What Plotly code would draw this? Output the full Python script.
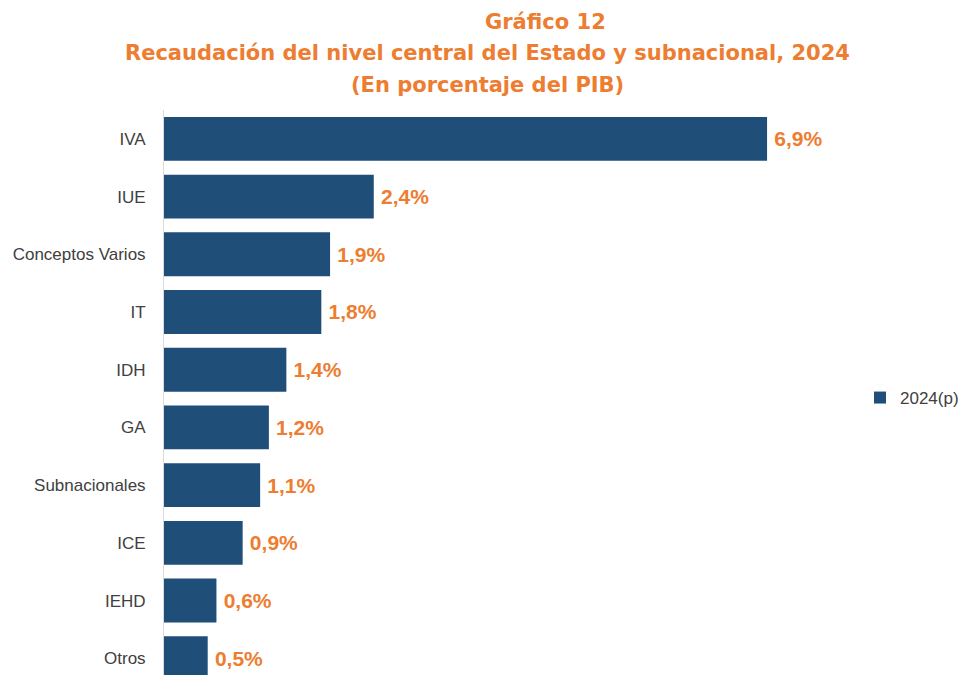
import plotly.graph_objects as go

categories = ["IVA", "IUE", "Conceptos Varios", "IT", "IDH", "GA",
              "Subnacionales", "ICE", "IEHD", "Otros"]
values = [6.9, 2.4, 1.9, 1.8, 1.4, 1.2, 1.1, 0.9, 0.6, 0.5]
labels = ["6,9%", "2,4%", "1,9%", "1,8%", "1,4%", "1,2%", "1,1%", "0,9%", "0,6%", "0,5%"]
series_name = "2024(p)"

BLUE = "#1F4E79"
ORANGE = "#ED7D31"

W, H = 959, 675
L, T = 164, 110
PW, PH = W - L, H - T

fig = go.Figure()
fig.add_trace(go.Bar(
    x=values, y=categories, orientation="h", name=series_name,
    marker=dict(color=BLUE, line=dict(width=0)),
    width=0.76,
    text=labels, texttemplate="\u2009%{text}", textposition="outside",
    textfont=dict(family="Liberation Sans", size=21, color=ORANGE, weight="bold"),
    cliponaxis=False, showlegend=True,
))

fig.update_layout(
    width=W, height=H,
    paper_bgcolor="white", plot_bgcolor="white",
    margin=dict(l=L, r=0, t=T, b=0, autoexpand=False),
    bargap=0.24,
    xaxis=dict(range=[0, PW / 87.4], showgrid=False, zeroline=False, showticklabels=False,
               showline=False, fixedrange=True, automargin=False),
    yaxis=dict(categoryorder="array", categoryarray=categories,
               range=[9.29, -0.5], showgrid=False, zeroline=False, automargin=False,
               showline=True, linecolor="#D9D9D9", linewidth=1,
               ticks="outside", tickcolor="rgba(0,0,0,0)", ticklen=14,
               tickfont=dict(family="Liberation Sans", size=17, color="#404040")),
    legend=dict(x=(860 - L) / PW, y=(H - 398) / PH, xanchor="left", yanchor="middle",
                font=dict(family="Liberation Sans", size=17, color="#404040"),
                itemwidth=30, bgcolor="rgba(0,0,0,0)"),
    showlegend=True,
    font=dict(family="Liberation Sans"),
)

title_font = dict(family="DejaVu Sans", size=21, color=ORANGE)
fig.add_annotation(text="<b>Gráfico 12</b>", xref="paper", yref="paper",
                   x=(545 - L) / PW, y=(H - 22) / PH, xanchor="center", yanchor="middle",
                   showarrow=False, font=title_font)
fig.add_annotation(text="<b>Recaudación del nivel central del Estado y subnacional, 2024</b>",
                   xref="paper", yref="paper",
                   x=(487 - L) / PW, y=(H - 53) / PH, xanchor="center", yanchor="middle",
                   showarrow=False, font=title_font)
fig.add_annotation(text="<b>(En porcentaje del PIB)</b>", xref="paper", yref="paper",
                   x=(487 - L) / PW, y=(H - 85) / PH, xanchor="center", yanchor="middle",
                   showarrow=False, font=title_font)

fig.write_html("out.html", config={"displayModeBar": False},
               post_script="document.body.style.margin='0';document.body.style.overflow='hidden';")
